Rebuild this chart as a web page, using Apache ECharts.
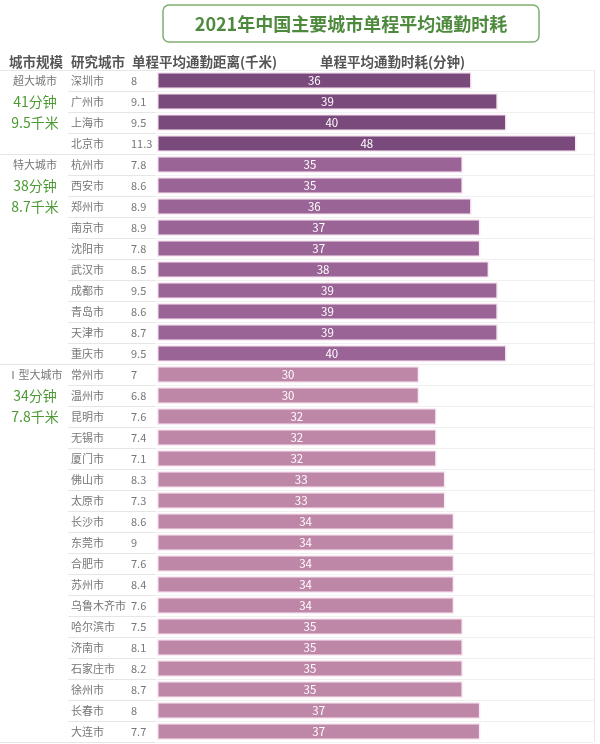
<!DOCTYPE html>
<html>
<head>
<meta charset="utf-8">
<script src="https://cdn.jsdelivr.net/npm/echarts@6/dist/echarts.min.js"></script>
<style>html,body{margin:0;padding:0;background:#fff;}#c{width:600px;height:744px;}</style>
</head>
<body>
<div id="c"></div>
<script>
const titleText = '2021年中国主要城市单程平均通勤时耗';
const headers = ['城市规模', '研究城市', '单程平均通勤距离(千米)', '单程平均通勤时耗(分钟)'];
const groups = ['超大城市', '特大城市', 'Ⅰ型大城市'];
const groupTime = [41, 38, 34];
const groupDist = [9.5, 8.7, 7.8];
const groupSizes = [4, 10, 18];
const cities = ['深圳市','广州市','上海市','北京市',
  '杭州市','西安市','郑州市','南京市','沈阳市','武汉市','成都市','青岛市','天津市','重庆市',
  '常州市','温州市','昆明市','无锡市','厦门市','佛山市','太原市','长沙市','东莞市','合肥市','苏州市','乌鲁木齐市','哈尔滨市','济南市','石家庄市','徐州市','长春市','大连市'];
const distance = [8, 9.1, 9.5, 11.3,
  7.8, 8.6, 8.9, 8.9, 7.8, 8.5, 9.5, 8.6, 8.7, 9.5,
  7, 6.8, 7.6, 7.4, 7.1, 8.3, 7.3, 8.6, 9, 7.6, 8.4, 7.6, 7.5, 8.1, 8.2, 8.7, 8, 7.7];
const commute = [36, 39, 40, 48,
  35, 35, 36, 37, 37, 38, 39, 39, 39, 40,
  30, 30, 32, 32, 32, 33, 33, 34, 34, 34, 34, 34, 35, 35, 35, 35, 37, 37];

const groupColors = ['#7b4a7d', '#9a6497', '#be87a7'];
const FONT = '"Noto Sans CJK SC", "Noto Sans", sans-serif';

const groupIdx = [];
const groupStarts = [];
groupSizes.forEach((n, g) => { groupStarts.push(groupIdx.length); for (let i = 0; i < n; i++) groupIdx.push(g); });
const groupCol = cities.map((c, i) => {
  const g = groupIdx[i];
  const k = i - groupStarts[g];
  if (k === 0) return '{n|' + groups[g] + '}';
  if (k === 1) return '{g|' + groupTime[g] + '分钟}';
  if (k === 2) return '{g|' + groupDist[g] + '千米}';
  return '';
});

const TOP = 70, HEIGHT = 672;
const chart = echarts.init(document.getElementById('c'));
chart.setOption({
  animation: false,
  backgroundColor: '#fff',
  textStyle: { fontFamily: FONT },
  graphic: [
    { type: 'rect', shape: { x: 163, y: 5, width: 376, height: 37, r: 6 },
      style: { fill: '#fff', stroke: '#7fae72', lineWidth: 1.5 } },
    { type: 'text', x: 351, y: 24,
      style: { text: titleText, fill: '#4e8a3e', font: 'bold 18px ' + FONT, textAlign: 'center', textVerticalAlign: 'middle' } },
    { type: 'text', x: 9, y: 62, style: { text: headers[0], fill: '#555', font: 'bold 13.5px ' + FONT, textVerticalAlign: 'middle' } },
    { type: 'text', x: 71, y: 62, style: { text: headers[1], fill: '#555', font: 'bold 13.5px ' + FONT, textVerticalAlign: 'middle' } },
    { type: 'text', x: 132, y: 62, style: { text: headers[2], fill: '#555', font: 'bold 13.5px ' + FONT, textVerticalAlign: 'middle' } },
    { type: 'text', x: 320, y: 62, style: { text: headers[3], fill: '#555', font: 'bold 13.5px ' + FONT, textVerticalAlign: 'middle' } }
  ],
  grid: [
    { left: 157, right: 6, top: TOP, height: HEIGHT },
    { left: 68, width: 88, top: TOP, height: HEIGHT },
    { left: 0, width: 68, top: TOP, height: HEIGHT }
  ],
  xAxis: [
    { gridIndex: 0, type: 'value', min: 0, max: 50, interval: 50,
      axisLabel: { show: false }, axisLine: { show: false }, axisTick: { show: false },
      splitLine: { show: true, lineStyle: { color: ['rgba(0,0,0,0)', '#e8e8e8'] } } },
    { gridIndex: 1, type: 'value', show: false, min: 0, max: 1 },
    { gridIndex: 2, type: 'value', show: false, min: 0, max: 1 }
  ],
  yAxis: [
    { gridIndex: 0, type: 'category', data: cities, inverse: true,
      axisLabel: { show: false }, axisLine: { show: false }, axisTick: { show: false },
      splitLine: { show: true, lineStyle: { color: '#f0f0f0' } } },
    { gridIndex: 1, type: 'category', data: cities, inverse: true, position: 'left',
      axisLine: { show: false }, axisTick: { show: false },
      axisLabel: { inside: true, margin: 3, color: '#777', fontSize: 11, fontFamily: FONT, interval: 0 },
      splitLine: { show: true, lineStyle: { color: '#e6e6e6' } } },
    { gridIndex: 1, type: 'category', data: distance.map(String), inverse: true, position: 'left', offset: -62,
      axisLine: { show: false }, axisTick: { show: false },
      axisLabel: { inside: true, margin: 1, color: '#777', fontSize: 11, fontFamily: FONT, interval: 0 } },
    { gridIndex: 2, type: 'category', data: groupCol, inverse: true, position: 'left',
      axisLine: { show: false }, axisTick: { show: false },
      axisLabel: { inside: true, margin: 35, align: 'center', interval: 0,
        rich: { n: { color: '#777', fontSize: 11, fontFamily: FONT },
                g: { color: '#4d9a35', fontSize: 14, fontFamily: FONT } } },
      splitLine: { show: true, interval: (i) => groupStarts.indexOf(i) >= 0, lineStyle: { color: '#e6e6e6' } } }
  ],
  series: [
    { type: 'bar', xAxisIndex: 0, yAxisIndex: 0, barWidth: 17,
      data: commute.map((v, i) => ({ value: v, itemStyle: { color: groupColors[groupIdx[i]] } })),
      itemStyle: { borderColor: '#f9ebf4', borderWidth: 1.5 },
      label: { show: true, position: 'inside', color: '#fff', fontSize: 11.5, fontFamily: FONT } }
  ]
});
</script>
</body>
</html>
